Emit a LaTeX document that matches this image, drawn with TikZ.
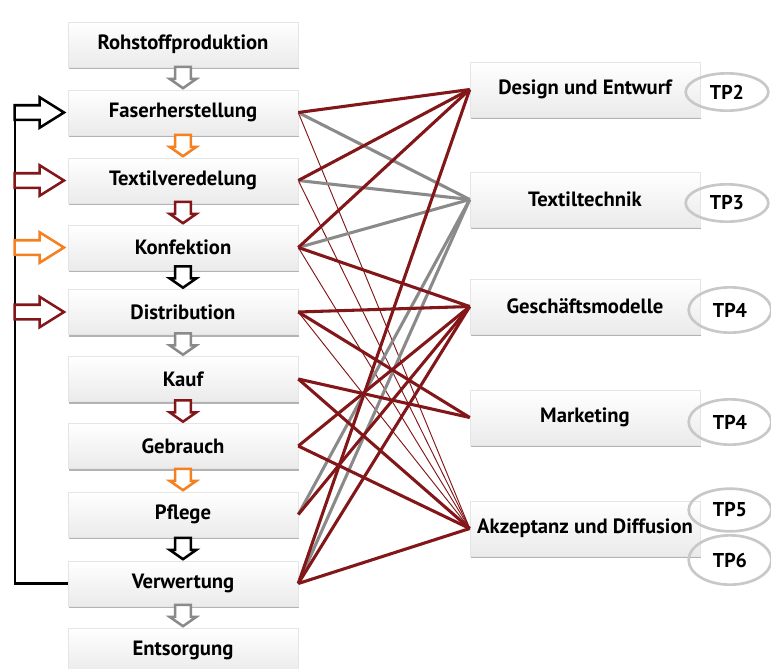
\documentclass[tikz,border=0pt]{standalone}
\usepackage{fontspec}
\setmainfont{PT Sans}
\usetikzlibrary{shapes.arrows, shapes.geometric, shadows}
\definecolor{dunkelrot}{RGB}{130,22,24}
\definecolor{grau}{RGB}{138,138,138}
\definecolor{hellorange}{RGB}{245,128,32}
\definecolor{randgrau}{RGB}{200,200,200}

\tikzset{
  stufe/.style={draw=gray!20, top color=white, bottom color=gray!16,
    minimum width=172.5pt, minimum height=33.75pt, inner sep=1pt,
    font=\bfseries\fontsize{15.5}{17}\selectfont,
    drop shadow={shadow xshift=0.6pt, shadow yshift=-1.8pt, opacity=0.7, fill=gray!85}},
  feld/.style={stufe, minimum height=41pt},
  tp/.style={ellipse, draw=randgrau, line width=2pt, minimum width=62pt,
    minimum height=#1, inner sep=0pt, font=\bfseries\fontsize{15}{17}\selectfont},
  abpfeil/.style={single arrow, draw=#1, fill=white, line width=1.9pt, rotate=-90,
    minimum height=16pt, minimum width=20pt, inner xsep=0pt, inner ysep=5pt,
    single arrow head extend=4pt, single arrow tip angle=110},
  seitpfeil/.style={single arrow, draw=#1, fill=white, line width=1.9pt,
    minimum height=37pt, minimum width=22pt, inner xsep=0pt, inner ysep=4.5pt,
    single arrow head extend=6pt, single arrow tip angle=64},
  dick/.style={dunkelrot, line width=2.3pt},
  duenn/.style={dunkelrot, line width=0.7pt},
  graulinie/.style={grau, line width=2.3pt},
}

\begin{document}
\begin{tikzpicture}[x=0.75pt, y=-0.75pt]
\clip (0,0) rectangle (771,668);
\fill[white] (0,0) rectangle (771,668);

% Stufen der Kette
\node[stufe] (roh) at (183,44.5) {Rohstoffproduktion};
\node[stufe] (faser) at (183,112.5) {Faserherstellung};
\node[stufe] (textil) at (183,180.5) {Textilveredelung};
\node[stufe] (konf) at (183,247.5) {Konfektion};
\node[stufe] (dist) at (183,312) {Distribution};
\node[stufe] (kauf) at (183,379) {Kauf};
\node[stufe] (gebrauch) at (183,446) {Gebrauch};
\node[stufe] (pflege) at (183,514.5) {Pflege};
\node[stufe] (verw) at (183,583.5) {Verwertung};
\node[stufe] (entsorg) at (183,650.5) {Entsorgung};

% Teilprojekte
\node[feld] (design) at (585,89.5) {Design und Entwurf};
\node[feld] (technik) at (585,199.5) {Textiltechnik};
\node[feld] (modelle) at (585,306.5) {Geschäftsmodelle};
\node[feld] (marketing) at (585,417.5) {Marketing};
\node[feld] (akzeptanz) at (585,528.5) {Akzeptanz und Diffusion};

\node[tp=28pt] (tpzwei) at (727,92) {TP2};
\node[tp=28pt] (tpdrei) at (727,203) {TP3};
\node[tp=34pt] (tpvier) at (730,310) {TP4};
\node[tp=34pt] (tpviermark) at (730,422) {TP4};
\node[tp=32pt] (tpfuenf) at (730,510) {TP5};
\node[tp=37pt] (tpsechs) at (730,560) {TP6};

% Pfeile zwischen den Stufen
\node[abpfeil=grau, anchor=tip] at (faser.north) {};
\node[abpfeil=hellorange, anchor=tip] at (textil.north) {};
\node[abpfeil=dunkelrot, anchor=tip] at (konf.north) {};
\node[abpfeil=black, anchor=tip] at (dist.north) {};
\node[abpfeil=grau, anchor=tip] at (kauf.north) {};
\node[abpfeil=dunkelrot, anchor=tip] at (gebrauch.north) {};
\node[abpfeil=hellorange, anchor=tip] at (pflege.north) {};
\node[abpfeil=black, anchor=tip] at (verw.north) {};
\node[abpfeil=grau, anchor=tip] at (entsorg.north) {};

% Rueckfuehrung
\coordinate (oben) at (15,104);
\draw[line width=2pt] (verw.west) -| (oben);
\node[seitpfeil=black, anchor=tip] at ([xshift=-1pt]faser.west) {};
\node[seitpfeil=dunkelrot, anchor=tip] at ([xshift=-1pt]textil.west) {};
\node[seitpfeil=hellorange, anchor=tip] at ([xshift=-1pt]konf.west) {};
\node[seitpfeil=dunkelrot, anchor=tip] at ([xshift=-1pt]dist.west) {};

% Zuordnung zu den Teilprojekten
\draw[duenn] (faser.east) -- (akzeptanz.west);
\draw[duenn] (textil.east) -- (akzeptanz.west);
\draw[duenn] (konf.east) -- (akzeptanz.west);
\draw[duenn] (dist.east) -- (akzeptanz.west);
\draw[graulinie] (faser.east) -- (technik.west);
\draw[graulinie] (textil.east) -- (technik.west);
\draw[graulinie] (konf.east) -- (technik.west);
\draw[graulinie] (pflege.east) -- (technik.west);
\draw[graulinie] (verw.east) -- (technik.west);
\draw[dick] (faser.east) -- (design.west);
\draw[dick] (textil.east) -- (design.west);
\draw[dick] (konf.east) -- (design.west);
\draw[dick] (verw.east) -- (design.west);
\draw[dick] (konf.east) -- (modelle.west);
\draw[dick] (dist.east) -- (modelle.west);
\draw[dick] (gebrauch.east) -- (modelle.west);
\draw[dick] (pflege.east) -- (modelle.west);
\draw[dick] (verw.east) -- (modelle.west);
\draw[dick] (dist.east) -- (marketing.west);
\draw[dick] (kauf.east) -- (marketing.west);
\draw[dick] (kauf.east) -- (akzeptanz.west);
\draw[dick] (gebrauch.east) -- (akzeptanz.west);
\draw[dick] (verw.east) -- (akzeptanz.west);
\end{tikzpicture}
\end{document}
